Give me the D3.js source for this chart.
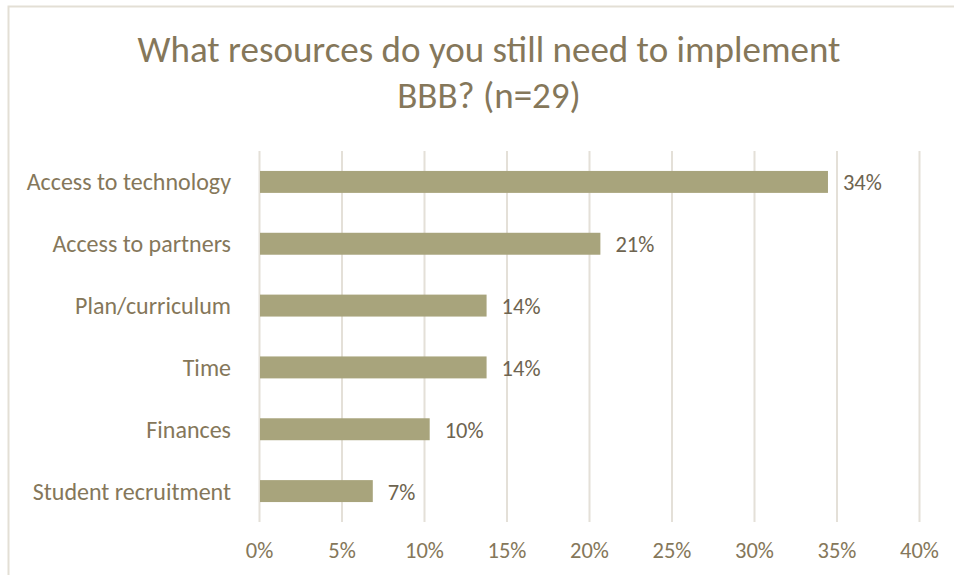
<!DOCTYPE html>
<html>
<head>
<meta charset="utf-8">
<script src="https://cdn.jsdelivr.net/npm/d3@7"></script>
<style>
  html, body { margin: 0; padding: 0; background: #fff; }
  svg { display: block; }
  text { font-family: Carlito, Calibri, Lato, "Open Sans", sans-serif; }
</style>
</head>
<body>
<svg id="chart" width="954" height="575"></svg>
<script>
// Survey responses (n = 29), share of respondents per resource
const titleLines = ["What resources do you still need to implement", "BBB? (n=29)"];
const categories = ["Access to technology", "Access to partners", "Plan/curriculum", "Time", "Finances", "Student recruitment"];
const shares = [10 / 29, 6 / 29, 4 / 29, 4 / 29, 3 / 29, 2 / 29];
const tickValues = [0, 0.05, 0.10, 0.15, 0.20, 0.25, 0.30, 0.35, 0.40];

const data = categories.map((c, i) => ({ category: c, value: shares[i] }));

const W = 954, H = 575;
const margin = { top: 151, right: 35, bottom: 53, left: 259 };

const svg = d3.select("#chart");

// outer frame (top and left edges visible)
svg.append("path")
  .attr("d", `M8.5,${H} V6.5 H${W}`)
  .attr("fill", "none")
  .attr("stroke", "#e3dfd5")
  .attr("stroke-width", 2);

const x = d3.scaleLinear()
  .domain([0, 0.40])
  .range([margin.left, W - margin.right]);

const y = d3.scaleBand()
  .domain(categories)
  .range([margin.top, H - margin.bottom])
  .paddingInner(0.645)
  .paddingOuter(0.3225);

const pct = d3.format(".0%");

// vertical gridlines
svg.append("g")
  .selectAll("line")
  .data(tickValues)
  .join("line")
  .attr("x1", d => x(d) + 0.5)
  .attr("x2", d => x(d) + 0.5)
  .attr("y1", margin.top)
  .attr("y2", H - margin.bottom)
  .attr("stroke", "#e4e0d8")
  .attr("stroke-width", 2);

// x axis labels
const xAxis = d3.axisBottom(x)
  .tickValues(tickValues)
  .tickFormat(pct)
  .tickSize(0)
  .tickPadding(0);

const gx = svg.append("g")
  .attr("transform", `translate(0,${H - margin.bottom})`)
  .call(xAxis);
gx.select(".domain").remove();
gx.selectAll("text")
  .attr("dy", null)
  .attr("y", 36)
  .attr("fill", "#85775a")
  .style("font-size", "22.5px");

// y axis category labels
const yAxis = d3.axisLeft(y).tickSize(0).tickPadding(28);
const gy = svg.append("g")
  .attr("transform", `translate(${margin.left},0)`)
  .call(yAxis);
gy.select(".domain").remove();
gy.selectAll("text")
  .attr("dy", "8.5")
  .attr("fill", "#85775a")
  .style("font-size", "24px");

// bars
svg.append("g")
  .selectAll("rect")
  .data(data)
  .join("rect")
  .attr("x", x(0) + 1)
  .attr("y", d => y(d.category))
  .attr("width", d => x(d.value) - x(0) - 1)
  .attr("height", y.bandwidth())
  .attr("fill", "#a8a47c");

// value labels
svg.append("g")
  .selectAll("text")
  .data(data)
  .join("text")
  .attr("x", d => x(d.value) + 15)
  .attr("y", d => y(d.category) + y.bandwidth() / 2 + 8.5)
  .attr("fill", "#6e6450")
  .style("font-size", "22.5px")
  .text(d => pct(d.value));

// title
svg.append("g")
  .selectAll("text")
  .data(titleLines)
  .join("text")
  .attr("x", 489)
  .attr("y", (d, i) => 62 + i * 46)
  .attr("text-anchor", "middle")
  .attr("fill", "#85775a")
  .style("font-size", "37px")
  .text(d => d);
</script>
</body>
</html>
